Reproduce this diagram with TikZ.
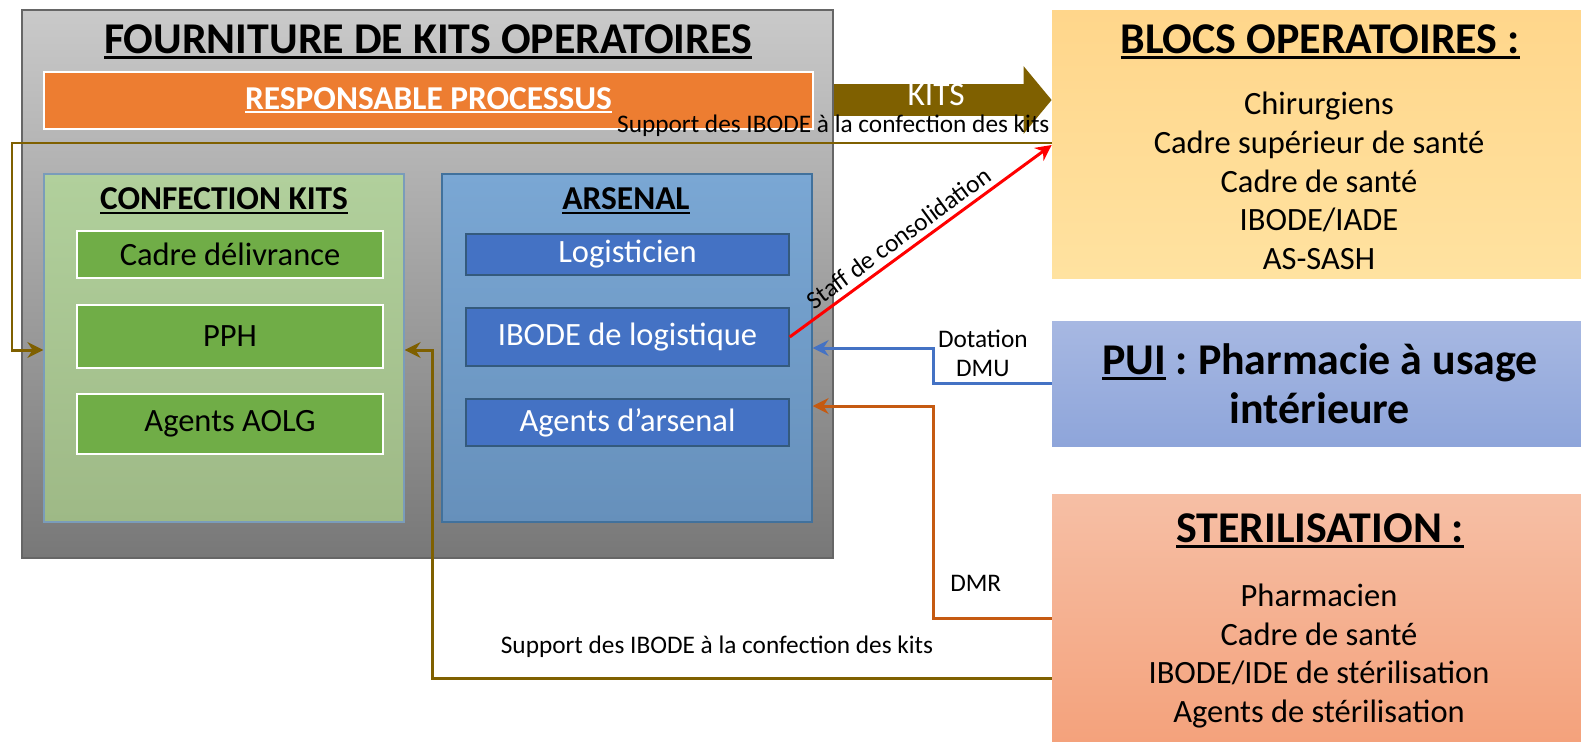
\documentclass[tikz,border=0pt]{standalone}
\usepackage{fontspec}
\setmainfont{Carlito}
\usetikzlibrary{arrows.meta,fit,positioning}

\definecolor{kitbrown}{HTML}{7F6000}
\definecolor{dmublue}{HTML}{4472C4}
\definecolor{dmrorange}{HTML}{C55A11}
\definecolor{procorange}{HTML}{ED7D31}
\definecolor{itemgreen}{HTML}{70AD47}
\definecolor{itemblue}{HTML}{4472C4}
\definecolor{edgeblue}{HTML}{41719C}

\newsavebox{\ulbox}
\newcommand{\ulin}[1]{\sbox{\ulbox}{#1}\rlap{\rule[-0.12em]{\wd\ulbox}{0.06em}}#1}

\begin{document}
\begin{tikzpicture}[x=0.02cm, y=-0.02cm,
    box/.style={draw, inner sep=0pt, line width=0.8pt},
    big/.style={font=\fontsize{25}{28}\selectfont\bfseries},
    mid/.style={font=\fontsize{19}{23}\selectfont\bfseries},
    item/.style={font=\fontsize{18.5}{22}\selectfont},
    lbl/.style={font=\fontsize{14.4}{16.5}\selectfont, text=black, inner sep=3pt},
    gitem/.style={box, draw=white, line width=1.5pt, fill=itemgreen},
    bitem/.style={box, draw=edgeblue!80!black, fill=itemblue},
    link/.style={line width=1.7pt, -{Stealth[length=9pt,width=9pt]}}]
    \useasboundingbox (0,0) rectangle (1581,741);
    % main block
    \node[box, draw=gray!80!black, top color=black!21, middle color=black!24, bottom color=black!53,
      fit={(22,10) (833,558)}] (four) {};
    \node[big] (ftitle) at (428,42) {\ulin{FOURNITURE DE KITS OPERATOIRES}};
    \node[box, draw=white, line width=1.5pt, fill=procorange, fit={(44,72) (813,129)}] (resp) {};
    \node[mid, text=white] (resptxt) at (resp) {\ulin{RESPONSABLE PROCESSUS}};
    \node[box, draw=edgeblue!70, top color={rgb,255:red,177;green,208;blue,156}, bottom color={rgb,255:red,158;green,185;blue,134},
      fit={(44,174) (404,522)}] (conf) {};
    \node[box, draw=edgeblue, top color={rgb,255:red,122;green,167;blue,212}, bottom color={rgb,255:red,102;green,144;blue,187},
      fit={(442,174) (812,522)}] (arsenal) {};
    \node[mid] (ctitle) at (224,201) {\ulin{CONFECTION KITS}};
    \node[mid] (atitle) at (626,201) {\ulin{ARSENAL}};
    \foreach \n/\txt/\ya/\yb in {cadre/Cadre délivrance/231/278, pph/PPH/305/368, aolg/Agents AOLG/394/454}{
      \node[gitem, fit={(77,\ya) (383,\yb)}] (\n) {};
      \node[item] (\n txt) at (\n) {\txt};
    }
    \foreach \n/\txt/\ya/\yb in {logi/Logisticien/234/275, ibode/IBODE de logistique/308/366, agents/Agents d’arsenal/399/446}{
      \node[bitem, fit={(466,\ya) (789,\yb)}] (\n) {};
      \node[item, text=white] (\n txt) at (\n) {\txt};
    }
    % partners
    \node[inner sep=0pt, top color={rgb,255:red,255;green,214;blue,139}, bottom color={rgb,255:red,255;green,226;blue,160},
      fit={(1052,10) (1581,278)}] (blocs) {};
    \node[inner sep=0pt, top color={rgb,255:red,167;green,184;blue,226}, bottom color={rgb,255:red,142;green,165;blue,218},
      fit={(1052,321) (1581,446)}] (pui) {};
    \node[inner sep=0pt, top color={rgb,255:red,246;green,191;blue,165}, bottom color={rgb,255:red,244;green,162;blue,124},
      fit={(1052,494) (1581,741)}] (steril) {};
    \node[big] (btitle) at (1320,42) {\ulin{BLOCS OPERATOIRES :}};
    \node[item, align=center] (bitems) at (1319,181) {Chirurgiens\\Cadre supérieur de santé\\Cadre de santé\\IBODE/IADE\\AS-SASH};
    \node[big, align=center] (puitxt) at (1320,384) {\ulin{PUI} : Pharmacie à usage\\intérieure};
    \node[big] (stitle) at (1320,531) {\ulin{STERILISATION :}};
    \node[item, align=center] (sitems) at (1319,656) {Pharmacien\\Cadre de santé\\IBODE/IDE de stérilisation\\Agents de stérilisation};
    % flows
    \draw[kitbrown, line width=0.64cm, -{Triangle[length=0.56cm,width=1.32cm]}] (four.east |- 0,100)
      -- node[pos=0.47, yshift=3pt, text=white, font=\fontsize{19}{23}\selectfont] (kits) {KITS} (blocs.west |- 0,100);
    \draw[link, kitbrown] (blocs.west |- 0,143) -- node[lbl, above, pos=0.21] (sup1) {Support des IBODE à la confection des kits}
      (12,143) |- (conf.west |- 0,350);
    \draw[link, red] (ibode.east) -- node[lbl, above, sloped, pos=0.45] (staff) {Staff de consolidation} (blocs.west |- 0,145);
    \draw[link, dmublue] (pui.west |- 0,383) -| node[lbl, above, pos=0.29, align=center] (dmu) {Dotation\\DMU}
      (933,348) -- (arsenal.east |- 0,348);
    \draw[link, dmrorange] (steril.west |- 0,618) -| node[lbl, above=11pt, pos=0.32] (dmr) {DMR}
      (933,406) -- (arsenal.east |- 0,406);
    \draw[link, kitbrown] (steril.west |- 0,678) -| node[lbl, above=8pt, pos=0.27] (sup2) {Support des IBODE à la confection des kits}
      (432,350) -- (conf.east |- 0,350);
\end{tikzpicture}
\end{document}
